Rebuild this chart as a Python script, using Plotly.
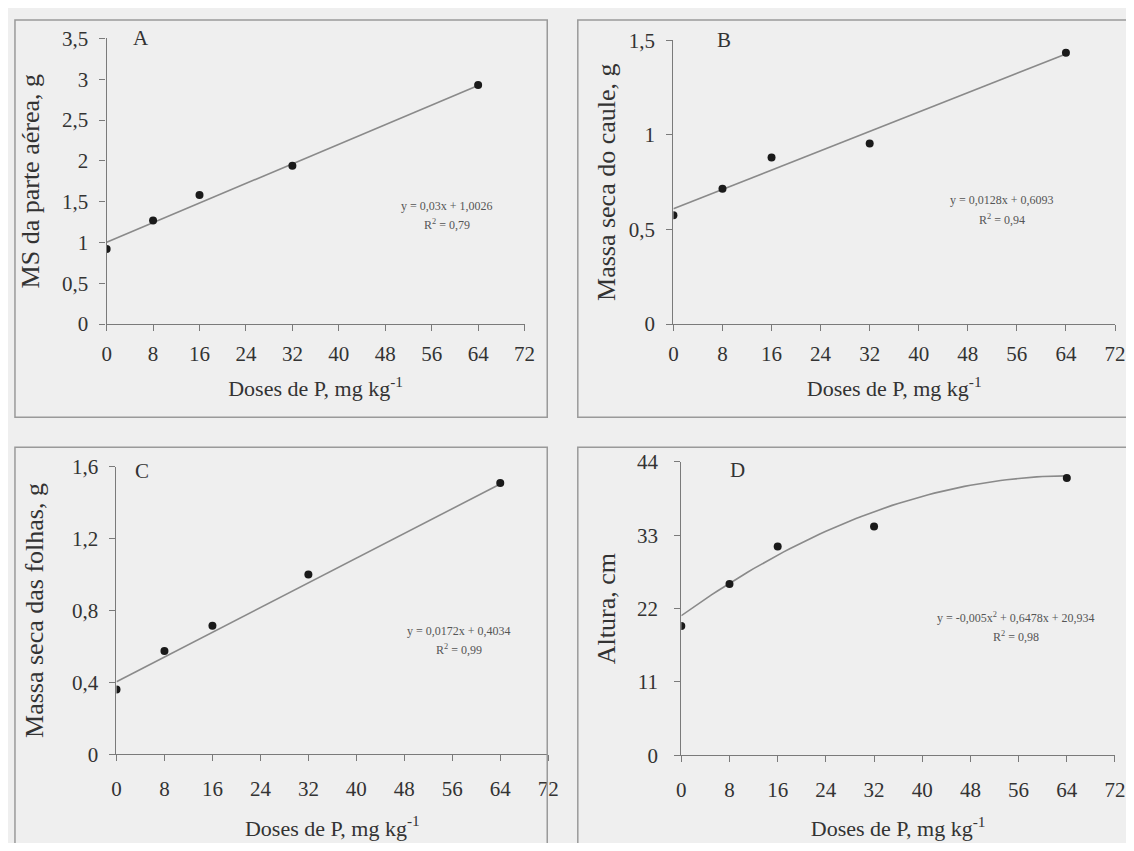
import numpy as np
import plotly.graph_objects as go

# page is 1134x851 with 8px body margin -> figure 1118x835
W, H = 1118, 835
OFF = 8

doses = [0, 8, 16, 32, 64]

ms_parte_aerea = [0.92, 1.27, 1.58, 1.94, 2.93]
massa_caule = [0.575, 0.715, 0.88, 0.955, 1.435]
massa_folhas = [0.36, 0.575, 0.715, 1.0, 1.51]
altura = [19.4, 25.7, 31.3, 34.3, 41.6]

# regression coefficients printed on the chart (a2, a1, a0)
coef_A = [0.0, 0.03, 1.0026]
coef_B = [0.0, 0.0128, 0.6093]
coef_C = [0.0, 0.0172, 0.4034]
coef_D = [-0.005, 0.6478, 20.934]

eq_A = ["y = 0,03x + 1,0026", "R<sup>2</sup> = 0,79"]
eq_B = ["y = 0,0128x + 0,6093", "R<sup>2</sup> = 0,94"]
eq_C = ["y = 0,0172x + 0,4034", "R<sup>2</sup> = 0,99"]
eq_D = ["y = -0,005x<sup>2</sup> + 0,6478x + 20,934", "R<sup>2</sup> = 0,98"]

x_ticks = [0, 8, 16, 24, 32, 40, 48, 56, 64, 72]
yt_A = [0, 0.5, 1, 1.5, 2, 2.5, 3, 3.5]
yl_A = ["0", "0,5", "1", "1,5", "2", "2,5", "3", "3,5"]
yt_B = [0, 0.5, 1, 1.5]
yl_B = ["0", "0,5", "1", "1,5"]
yt_C = [0, 0.4, 0.8, 1.2, 1.6]
yl_C = ["0", "0,4", "0,8", "1,2", "1,6"]
yt_D = [0, 11, 22, 33, 44]
yl_D = ["0", "11", "22", "33", "44"]

titles_y = ["MS da parte aérea, g", "Massa seca do caule, g",
            "Massa seca das folhas, g", "Altura, cm"]
x_title = "Doses de P, mg kg<sup>-1</sup>"
letters = ["A", "B", "C", "D"]

def px(x):
    return min(max((x - OFF) / W, 0.0), 1.0)

def py(y):
    return min(max(1 - (y - OFF) / H, 0.0), 1.0)

# panel geometry in page pixels: (x at 0, x at 72, y top, y bottom)
panels = [
    (103, 527, 27, 321),
    (678, 1126, 29, 321),
    (113, 551, 468, 764),
    (686, 1126, 463, 765),
]
frames = [(10, 550, 8, 417), (581, 1150, 8, 417), (10, 550, 448, 870), (581, 1150, 448, 870)]
yranges = [[0, 3.5], [0, 1.5], [0, 1.6], [0, 44]]
yticks = [(yt_A, yl_A), (yt_B, yl_B), (yt_C, yl_C), (yt_D, yl_D)]
ystandoff = [14, 5, 20, 13]
ylabstand = [7, 7, 7, 12]
xlabstand = [5, 5, 9, 9]
xtitstand = [15, 15, 20, 20]
data = [ms_parte_aerea, massa_caule, massa_folhas, altura]
coefs = [coef_A, coef_B, coef_C, coef_D]
eqs = [eq_A, eq_B, eq_C, eq_D]
eq_pos = [(448, 199, 219), (1011, 193, 213), (460, 637, 656), (1026, 623, 643)]
letter_pos = [(128, 27), (720, 29), (130, 472), (733, 471)]

font_family = "Liberation Serif, Times New Roman, serif"
txt_color = "#333333"
axis_color = "#7a7a7a"

fig = go.Figure()
layout = dict(
    width=W, height=H,
    margin=dict(l=0, r=0, t=0, b=0),
    paper_bgcolor="#efefef",
    plot_bgcolor="rgba(0,0,0,0)",
    showlegend=False,
    font=dict(family=font_family, color=txt_color),
    shapes=[], annotations=[],
)

for i in range(4):
    sfx = "" if i == 0 else str(i + 1)
    xa, ya = "x" + sfx, "y" + sfx
    x0p, x72p, ytp, ybp = panels[i]
    a2, a1, a0 = coefs[i]
    xf = np.linspace(0, 64, 65)
    yf = a2 * xf ** 2 + a1 * xf + a0
    fig.add_trace(go.Scatter(x=xf, y=yf, mode="lines", xaxis=xa, yaxis=ya,
                             line=dict(color="#8a8a8a", width=1.6), hoverinfo="skip"))
    fig.add_trace(go.Scatter(x=doses, y=data[i], mode="markers", xaxis=xa, yaxis=ya,
                             marker=dict(color="#1a1a1a", size=8)))
    layout["xaxis" + sfx] = dict(
        domain=[px(x0p), px(x72p)], range=[0, 72], anchor=ya,
        tickvals=x_ticks, ticktext=[str(t) for t in x_ticks],
        showgrid=False, zeroline=False, showline=True, linecolor=axis_color, linewidth=1.3,
        ticks="outside", ticklen=6, tickcolor=axis_color, tickwidth=1.2,
        ticklabelstandoff=xlabstand[i],
        tickfont=dict(size=21, family=font_family, color=txt_color),
        title=dict(text=x_title, font=dict(size=22, family=font_family, color=txt_color),
                   standoff=xtitstand[i]),
    )
    tv, tl = yticks[i]
    layout["yaxis" + sfx] = dict(
        domain=[py(ybp), py(ytp)], range=yranges[i], anchor=xa,
        tickvals=tv, ticktext=tl,
        showgrid=False, zeroline=False, showline=True, linecolor=axis_color, linewidth=1.3,
        ticks="outside", ticklen=6, tickcolor=axis_color, tickwidth=1.2,
        ticklabelstandoff=ylabstand[i],
        tickfont=dict(size=21, family=font_family, color=txt_color),
        title=dict(text=titles_y[i], font=dict(size=26, family=font_family, color=txt_color),
                   standoff=ystandoff[i]),
    )
    fx0, fx1, fy0, fy1 = frames[i]
    layout["shapes"].append(dict(type="rect", xref="paper", yref="paper",
                                 x0=(fx0 - OFF) / W, x1=(fx1 - OFF) / W,
                                 y0=1 - (fy1 - OFF) / H, y1=1 - (fy0 - OFF) / H,
                                 line=dict(color="#9a9a9a", width=1.5), fillcolor="rgba(0,0,0,0)"))
    lx, ly = letter_pos[i]
    layout["annotations"].append(dict(text=letters[i], x=px(lx), y=py(ly), xref="paper", yref="paper",
                                      showarrow=False, xanchor="left", yanchor="middle",
                                      font=dict(size=21, family=font_family, color=txt_color)))
    ex, ey1, ey2 = eq_pos[i]
    layout["annotations"].append(dict(text=eqs[i][0], x=px(ex), y=py(ey1), xref="paper", yref="paper",
                                      showarrow=False, xanchor="center", yanchor="middle",
                                      font=dict(size=12, family=font_family, color="#555555")))
    layout["annotations"].append(dict(text=eqs[i][1], x=px(ex), y=py(ey2), xref="paper", yref="paper",
                                      showarrow=False, xanchor="center", yanchor="middle",
                                      font=dict(size=12, family=font_family, color="#555555")))

fig.update_layout(**layout)
fig.write_html("out.html")
